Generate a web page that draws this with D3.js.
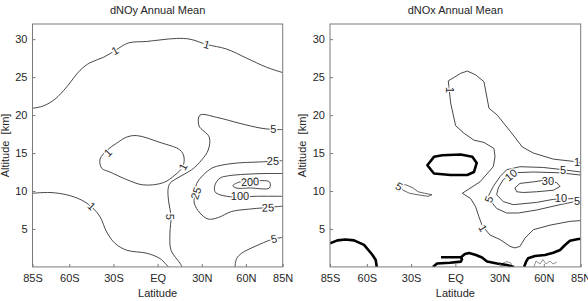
<!DOCTYPE html>
<html><head><meta charset="utf-8">
<script src="https://cdn.jsdelivr.net/npm/d3@7"></script>
<style>body{margin:0;background:#fff}svg{display:block}text{font-family:"Liberation Sans",Arial,sans-serif}</style>
</head><body><svg id="c" width="588" height="301"></svg>
<script>
// ---------- data ----------
const xTickValues = [-85,-60,-30,0,30,60,85];
const xTickLabels = ["85S","60S","30S","EQ","30N","60N","85N"];
const yTickValues = [5,10,15,20,25,30];
const titles = ["dNOy Annual Mean","dNOx Annual Mean"];

// dNOy contours [lat, alt]
const noy1Upper = [[-85,20.9],[-77.7,21.2],[-69.7,22.1],[-61.8,23.7],[-52.7,25.9],[-45.9,26.9],[-36.9,27.6],[-28.9,28.5],[-19.9,29.5],[-7.4,29.7],[1.6,29.9],[13,30.1],[22,30],[33.4,29.3],[46.9,28.7],[60.5,27.5],[74.1,26.3],[85,25.6]];
const noy1Loop = [[-39.1,14.2],[-38,13],[-32.3,12.5],[-21,11.5],[-9.7,10.8],[3.9,11.1],[11.8,12.1],[17.1,13.2],[17.9,14.5],[15.2,15.4],[1.6,16.4],[-14.2,17.3],[-21,17.1],[-27.8,16.3],[-34.2,15.4]];
const noy1Lower = [[-85,9.7],[-73.1,9.8],[-61.8,9.5],[-51.6,8.8],[-44.8,7.9],[-39.1,6.6],[-34.6,4.6],[-28.9,3.1],[-21,2.2],[-7.4,1.8],[1.6,1.1],[7.3,0]];
const noy5Mid = [[16.6,0],[15.2,0.5],[9.1,2.2],[8.4,4.5],[9.1,6.6],[7.4,8.8],[7.1,10.2],[8.4,11],[15.2,11.9],[23.2,12.8],[30,14.1],[34.4,15.4],[35.1,17.1],[28.1,18.6],[28.8,20],[40.2,19.7],[56,18.9],[69.6,18.3],[78.4,18.1],[85,18.1]];
const noy25 = [[85,14],[77.5,13.9],[66.2,13.8],[54.8,13.7],[43.5,13.4],[36.8,13],[31,12.1],[26.6,11],[25.4,9.7],[24.9,8.4],[28.8,7.1],[34.4,6.3],[41.2,6.5],[50.3,7.3],[61.6,7.6],[73,7.8],[85,8]];
const noy100 = [[85,12.3],[73,12.3],[59.4,12.2],[48,12],[42.4,11.7],[39,10.8],[39,9.9],[42.4,9.5],[52.6,9.2],[66.2,9.3],[85,9.3]];
const noy200 = [[51.2,10.7],[56,11.2],[64.1,11.3],[76,11.2],[76,10.4],[62.8,10.4],[53.3,10.4]];
const noy5Low = [[85,3.9],[77.5,3.6],[66.2,2.7],[57.1,1.8],[53.7,1.1],[52.6,0]];
const noyLines = [noy1Upper, noy1Lower, noy5Mid, noy25, noy100, noy5Low];
const noyLoops = [noy1Loop, noy200];
const noyLabelText = ["1","1","5","1","1","1","5","25","25","200","100","25","5"];
const noyLabelPos = [[-28.9,28.5],[33.4,29.3],[78.7,18.1],[-33.7,15.05],[17.3,13.2],[-44.9,8.0],[8.4,6.6],[78.4,13.9],[26.1,9.7],[62.8,11.2],[56,9.3],[75,7.8],[79.1,3.7]];

// dNOx contours
const nox1 = [[85,13.7],[80,13.9],[66.4,14.2],[52.9,15],[45.4,15.8],[37.5,17.8],[28.4,20],[22.8,20.9],[19.4,24.4],[13.8,25.3],[8.1,25.8],[3.6,25.5],[-4.8,24.5],[-3.2,21.6],[0.2,18.6],[5.9,17.6],[12.6,16.7],[19.4,16.4],[26.2,15.6],[26.9,14.5],[25.7,13.2],[16.7,11.2],[4.7,9.7],[10.4,9],[13.8,7.9],[16,6.6],[18.3,5.4],[23.5,4.2],[30.3,3.6],[37.1,2.7],[40.4,2.5],[43.8,2.7],[47.2,3.8],[52.9,4.9],[64.2,5.5],[77.7,6],[85,6.1]];
const nox5 = [[85,12.5],[73.2,12.8],[59.6,13.1],[43.8,13.2],[34.8,12.8],[30.3,11.9],[25.7,10.6],[22.3,9.3],[23.5,8.8],[28,7.7],[34.8,7.1],[42.7,7.1],[55.2,7.5],[71,8.2],[81.1,8.6],[85,8.7]];
const nox10 = [[85,12.1],[71,12.4],[52.9,12.5],[39.3,12.4],[32.5,11.5],[29.1,10.4],[28,9.5],[32.5,8.6],[39.3,8.2],[55.2,8.5],[66.4,8.9],[80,9],[85,9.1]];
const nox30 = [[40.4,10.4],[43.8,11],[52.9,11.2],[59.6,11.4],[68.7,11.1],[71,10.6],[66.4,10.1],[55.2,9.9],[46.1,9.8],[41.6,9.9]];
const noxSmall = [[-38.9,10.9],[-33.3,10.8],[-28.7,10.4],[-25.3,9.9],[-20.8,9.7],[-15.8,9.5],[-18.5,9.3],[-25.3,9.5],[-31,9.7],[-35.5,10.1]];
const noxThickLoop = [[-19,13.4],[-14.5,14.5],[-8.8,14.7],[3.6,14.8],[11.5,14.5],[14.5,13.7],[12.6,12.5],[8.1,12.1],[-3.2,12.1],[-14.5,12.3]];
const noxThickLeft = [[-85,3.1],[-80,3.5],[-74.4,3.6],[-68.7,3.5],[-61.9,2.9],[-56.3,1.6],[-54,0.9],[-53.3,0]];
const noxThickMidA = [[-15.2,0],[-12.4,0.45],[-3.6,0.55],[3.8,0.7],[4.5,1.0],[3.8,1.27]];
const noxThickMidB = [[-9.7,1.27],[3.8,1.27],[6.5,1.7],[9.3,1.83],[14,1.57],[18.1,1.24],[21.5,0.71],[28.2,0.45],[35,0.25],[39.8,0]];
const noxThickRight = [[46.6,0],[47.9,0.65],[49.3,1.13],[54,1.44],[60.8,1.57],[66.4,1.87],[71,2.23],[74.4,2.89],[77.7,3.45],[83.4,3.68],[85,3.68]];
const noxWiggleA = [[31.6,0],[32.3,0.51],[35,0.71],[37.7,0.51],[38.4,0]];
const noxWiggleB = [[53.3,0],[54.7,0.78],[57.4,0.38],[59.4,0.98],[61.5,0.38],[64.2,0.78],[66.2,0.38],[68.9,0.65]];
const noxThin = [nox1, nox5, nox10];
const noxThinLoops = [nox30];
const noxThick = [noxThickLeft, noxThickMidA, noxThickMidB, noxThickRight];
const noxThickLoops = [noxThickLoop];
const noxGray = [noxWiggleA, noxWiggleB];
const noxLabelText = ["1","1","1","5","5","10","30","5","10","5"];
const noxLabelPos = [[-3.6,23.3],[82.5,13.8],[18.7,5.1],[-38.2,10.6],[73,12.8],[37.7,12.1],[62.8,11.3],[22.8,8.9],[71.6,9.0],[82.5,8.7]];

// ---------- drawing ----------
const svg = d3.select("#c");
const yTop = 24, yBot = 266.9;
const panels = [
  {x0:32.5, x1:282.7, title:titles[0]},
  {x0:330, x1:580.7, title:titles[1]}
];
const noyAngles = [-30,15,0,-45,-62,43,90,0,-72,-4,0,-3,-12];
const noxAngles = [90,0,60,30,0,-40,0,-70,0,0];

panels.forEach((p,i)=>{
  const g = svg.append("g");
  const x = d3.scaleLinear().domain([-85,85]).range([p.x0,p.x1]);
  const y = d3.scaleLinear().domain([0,32]).range([yBot,yTop]);
  const cp = "clip"+i;
  svg.append("clipPath").attr("id",cp).append("rect").attr("x",p.x0).attr("y",yTop).attr("width",p.x1-p.x0).attr("height",yBot-yTop);
  const cg = g.append("g").attr("clip-path",`url(#${cp})`);
  const lineS = d3.line().x(d=>x(d[0])).y(d=>y(d[1])).curve(i===0?d3.curveCatmullRom.alpha(0.5):d3.curveLinear);
  const loopS = d3.line().x(d=>x(d[0])).y(d=>y(d[1])).curve(i===0?d3.curveCatmullRomClosed.alpha(0.5):d3.curveLinearClosed);
  const draw = (arr, gen, w, col) => arr.forEach(pts=>cg.append("path").attr("d",gen(pts)).attr("fill","none").attr("stroke",col).attr("stroke-width",w).attr("stroke-linejoin","round"));
  if(i===0){
    draw(noyLines,lineS,0.9,"#333");
    draw(noyLoops,loopS,0.9,"#333");
  } else {
    draw(noxThin,lineS,0.9,"#333");
    draw(noxThinLoops,loopS,0.9,"#333");
    draw([noxSmall],loopS,0.9,"#555");
    draw(noxGray,lineS,0.8,"#777");
    draw(noxThick,lineS,2.6,"#000");
    draw(noxThickLoops,loopS,2.6,"#000");
  }
  // labels
  const lt = i===0?noyLabelText:noxLabelText, lp = i===0?noyLabelPos:noxLabelPos, la = i===0?noyAngles:noxAngles;
  lt.forEach((t,k)=>{
    const px=x(lp[k][0]), py=y(lp[k][1]);
    cg.append("text").attr("transform",`translate(${px},${py}) rotate(${la[k]})`)
      .attr("text-anchor","middle").attr("dy","0.35em").attr("font-size",11)
      .style("fill","#262626").style("stroke","#ffffff").style("stroke-width","2.5px").style("paint-order","stroke").text(t);
  });
  // frame
  g.append("rect").attr("x",p.x0).attr("y",yTop).attr("width",p.x1-p.x0).attr("height",yBot-yTop)
    .attr("fill","none").attr("stroke","#7a7a7a").attr("stroke-width",1);
  // axes
  const xa = g.append("g").attr("transform",`translate(0,${yBot})`)
    .call(d3.axisBottom(x).tickValues(xTickValues).tickFormat((d,k)=>xTickLabels[k]).tickSizeInner(-3).tickSizeOuter(0).tickPadding(7));
  const ya = g.append("g").attr("transform",`translate(${p.x0},0)`)
    .call(d3.axisLeft(y).tickValues(yTickValues).tickSizeInner(-3).tickSizeOuter(0).tickPadding(5));
  [xa,ya].forEach(a=>{
    a.select(".domain").remove();
    a.selectAll("line").attr("stroke","#7a7a7a");
    a.selectAll("text").attr("font-size",11).attr("fill","#262626").attr("font-family","Liberation Sans, Arial, sans-serif");
  });
  // titles and axis labels
  g.append("text").attr("x",(p.x0+p.x1)/2).attr("y",14).attr("text-anchor","middle").attr("font-size",11).attr("fill","#262626").text(p.title);
  g.append("text").attr("x",(p.x0+p.x1)/2).attr("y",296.5).attr("text-anchor","middle").attr("font-size",11).attr("fill","#262626").text("Latitude");
  g.append("text").attr("transform",`translate(${p.x0-24},${(yTop+yBot)/2}) rotate(-90)`).attr("text-anchor","middle").attr("font-size",11).attr("fill","#262626").attr("xml:space","preserve").style("white-space","pre").text("Altitude  [km]");
});
</script></body></html>
